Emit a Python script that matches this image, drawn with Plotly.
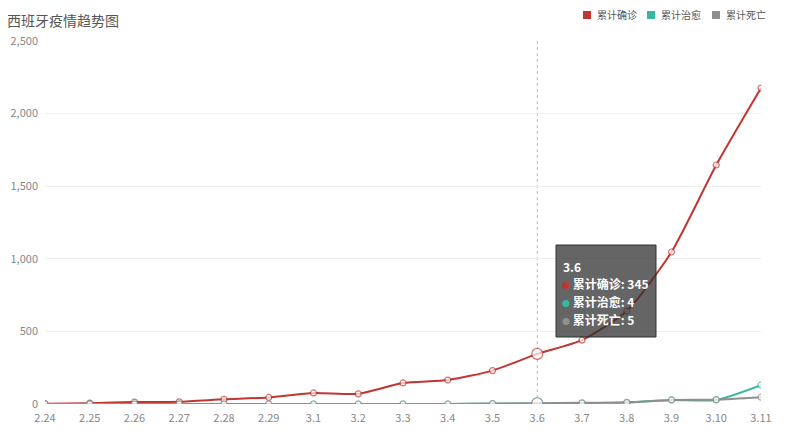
import plotly.graph_objects as go

dates = ["2.24", "2.25", "2.26", "2.27", "2.28", "2.29", "3.1", "3.2", "3.3", "3.4",
         "3.5", "3.6", "3.7", "3.8", "3.9", "3.10", "3.11"]
confirmed = [2, 6, 13, 15, 32, 45, 76, 70, 145, 165, 230, 345, 440, 640, 1047, 1646, 2176]
cured = [0, 0, 0, 0, 0, 0, 0, 0, 0, 0, 2, 4, 6, 12, 28, 28, 130]
deaths = [0, 0, 0, 0, 0, 0, 0, 0, 0, 0, 3, 5, 8, 10, 28, 30, 47]
names = ["累计确诊", "累计治愈", "累计死亡"]
colors = ["#c23531", "#38b79f", "#8f8f8f"]
series = [confirmed, cured, deaths]
focus = "3.6"
fi = dates.index(focus)

FONT = "Noto Sans CJK SC, Noto Sans, sans-serif"
fig = go.Figure()

for nm, col, vals in zip(names, colors, series):
    sizes = [11 if i == fi else 6 for i in range(len(dates))]
    fig.add_trace(go.Scatter(
        x=dates, y=vals, name=nm, mode="lines+markers",
        line=dict(color=col, width=2, shape="spline", smoothing=0.6),
        marker=dict(size=sizes, color="white", line=dict(color=col, width=1.2)),
        showlegend=False,
    ))

# plot area in screen pixels: x 45..761, y 41..404
PX0, PX1, PY0, PY1 = 45, 761, 41, 404
def px(x):
    return (x - PX0) / (PX1 - PX0)
def py(y):
    return (PY1 - y) / (PY1 - PY0)

# vertical pointer line
fig.add_shape(type="line", xref="x", yref="paper", x0=fi, x1=fi, y0=0, y1=1,
              line=dict(color="#bbbbbb", width=1, dash="dot"), layer="below")

# tooltip box
fig.add_shape(type="rect", xref="paper", yref="paper",
              x0=px(556), x1=px(656), y0=py(337), y1=py(245),
              fillcolor="rgba(50,50,50,0.75)", line=dict(color="#333", width=1))
fig.add_annotation(xref="paper", yref="paper", x=px(561), y=py(266),
                   text="<b>" + focus + "</b>", showarrow=False, xanchor="left", yanchor="middle",
                   font=dict(color="white", size=12, family=FONT))
for k, (nm, col, vals) in enumerate(zip(names, colors, series)):
    yy = 283 + k * 18
    fig.add_annotation(xref="paper", yref="paper", x=px(560), y=py(yy),
                       text="<span style='color:%s;font-size:8px'>●</span> <b>%s: %d</b>" % (col, nm, vals[fi]),
                       showarrow=False, xanchor="left", yanchor="middle",
                       font=dict(color="white", size=12, family=FONT))

# title
fig.add_annotation(xref="paper", yref="paper", x=px(6), y=py(8.5),
                   text="西班牙疫情趋势图", showarrow=False, xanchor="left", yanchor="top",
                   borderpad=0,
                   font=dict(color="#555", size=14, family=FONT))

# legend
lx = [583, 647, 712]
for x0, nm, col in zip(lx, names, colors):
    fig.add_shape(type="rect", xref="paper", yref="paper",
                  x0=px(x0), x1=px(x0 + 8),
                  y0=py(19), y1=py(11),
                  fillcolor=col, line=dict(color=col, width=0))
    fig.add_annotation(xref="paper", yref="paper", x=px(x0 + 12), y=py(15),
                       text=nm, showarrow=False, xanchor="left", yanchor="middle",
                       font=dict(color="#555", size=10, family=FONT))

fig.update_layout(
    width=800, height=435,
    margin=dict(l=37, r=47, t=33, b=39, autoexpand=False),
    paper_bgcolor="white", plot_bgcolor="white",
    font=dict(family=FONT, color="#777", size=11),
    xaxis=dict(type="category", range=[0, len(dates) - 1], showgrid=False,
               showline=False, ticks="", ticklabelstandoff=6, automargin=False,
               tickfont=dict(size=11, color="#888")),
    yaxis=dict(range=[0, 2500], tickvals=[0, 500, 1000, 1500, 2000, 2500],
               tickformat=",d", showgrid=True, gridcolor="#eeeeee", gridwidth=1,
               zeroline=False, showline=False, ticks="", ticklabelstandoff=6, automargin=False,
               tickfont=dict(size=11, color="#888")),
    showlegend=False,
)

fig.write_html("out.html")
